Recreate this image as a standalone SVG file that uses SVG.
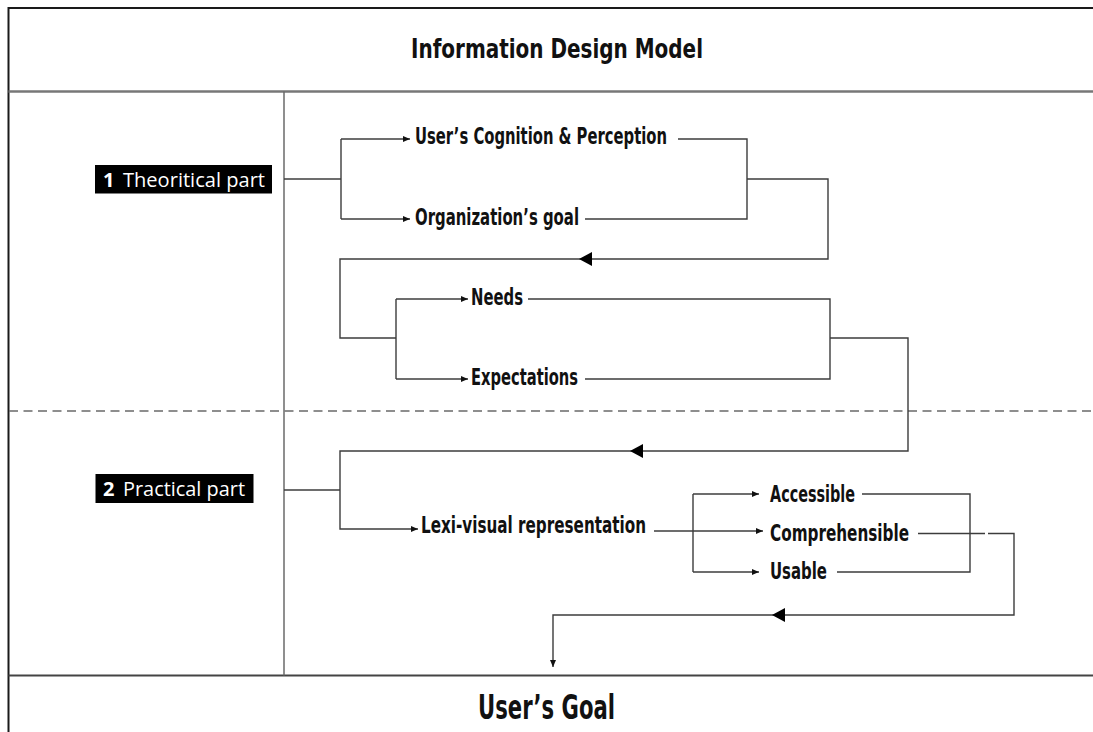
<svg xmlns="http://www.w3.org/2000/svg" width="1093" height="732" viewBox="0 0 1093 732">
  <style>
    .frame { fill: none; stroke: #3a3a3a; stroke-width: 2; }
    .divider { fill: none; stroke: #6a6a6a; stroke-width: 1.5; }
    .dash { fill: none; stroke: #6a6a6a; stroke-width: 1.5; stroke-dasharray: 9 5.5; }
    .wire { fill: none; stroke: #3c3c3c; stroke-width: 1.4; }
    .arr { marker-end: url(#tip); }
    .node { font-family: "Liberation Sans Narrow", "DejaVu Sans Condensed", "Liberation Sans", sans-serif; font-weight: bold; font-size: 23px; fill: #111; }
    .title { font-family: "Liberation Sans Narrow", "DejaVu Sans Condensed", "Liberation Sans", sans-serif; font-weight: bold; fill: #111; }
    .tag { fill: #000; }
    .tagtext { font-family: "Open Sans", "Noto Sans", "Liberation Sans", sans-serif; font-size: 20px; fill: #fff; }
    .big { fill: #000; }
  </style>
  <defs>
    <marker id="tip" markerUnits="userSpaceOnUse" markerWidth="8" markerHeight="6" refX="7" refY="3" orient="auto">
      <path d="M0,0 L7,3 L0,6 z" fill="#111"/>
    </marker>
    <path id="bigArrow" d="M0,0 L13,-7 L13,7 z"/>
  </defs>

  <rect width="1093" height="732" fill="#fff"/>

  <!-- page frame -->
  <g id="frame">
    <path class="frame" d="M8.5,732 V8 H1093" style="stroke:#1a1a1a"/>
    <path class="frame" d="M8.5,91.5 H1093" style="stroke:#777;stroke-width:2.5"/>
    <path class="frame" d="M8.5,675.5 H1093" style="stroke:#444"/>
    <path class="divider" d="M284,91.5 V675.5"/>
    <path class="dash" d="M9,411 H1093"/>
  </g>

  <!-- headings -->
  <g id="title">
    <text class="title" x="411" y="58" font-size="27" textLength="292" lengthAdjust="spacingAndGlyphs">Information Design Model</text>
  </g>
  <g id="users-goal">
    <text class="title" x="478" y="719" font-size="34" textLength="137" lengthAdjust="spacingAndGlyphs">User’s Goal</text>
  </g>

  <!-- section tags -->
  <g id="theoretical-part">
    <rect class="tag" x="95" y="165" width="177" height="28.5"/>
    <text class="tagtext" x="103" y="186.5" font-weight="bold">1</text>
    <text class="tagtext" x="123" y="186.5" textLength="142" lengthAdjust="spacingAndGlyphs">Theoritical part</text>
  </g>
  <g id="practical-part">
    <rect class="tag" x="95.5" y="474" width="158" height="29"/>
    <text class="tagtext" x="103" y="495.5" font-weight="bold">2</text>
    <text class="tagtext" x="123" y="495.5" textLength="122" lengthAdjust="spacingAndGlyphs">Practical part</text>
  </g>

  <!-- nodes -->
  <g id="cognition">
    <text class="node" x="415" y="144" textLength="252" lengthAdjust="spacingAndGlyphs">User’s Cognition &amp; Perception</text>
  </g>
  <g id="org-goal">
    <text class="node" x="415" y="225" textLength="164" lengthAdjust="spacingAndGlyphs">Organization’s goal</text>
  </g>
  <g id="needs">
    <text class="node" x="471" y="305" textLength="52" lengthAdjust="spacingAndGlyphs">Needs</text>
  </g>
  <g id="expectations">
    <text class="node" x="471" y="384.5" textLength="107" lengthAdjust="spacingAndGlyphs">Expectations</text>
  </g>
  <g id="lexi-visual">
    <text class="node" x="421" y="533" textLength="225" lengthAdjust="spacingAndGlyphs">Lexi-visual representation</text>
  </g>
  <g id="accessible">
    <text class="node" x="770" y="501.5" textLength="85" lengthAdjust="spacingAndGlyphs">Accessible</text>
  </g>
  <g id="comprehensible">
    <text class="node" x="770" y="540.5" textLength="139" lengthAdjust="spacingAndGlyphs">Comprehensible</text>
  </g>
  <g id="usable">
    <text class="node" x="770" y="578.5" textLength="57" lengthAdjust="spacingAndGlyphs">Usable</text>
  </g>

  <!-- connectors -->
  <g id="connectors">
    <!-- theoretical part: split into cognition / organization goal -->
    <path class="wire" d="M284,179 H341"/>
    <path class="wire" d="M341,139 V219"/>
    <path class="wire arr" d="M341,139 H410"/>
    <path class="wire arr" d="M341,219 H410"/>
    <!-- merge and return to needs / expectations -->
    <path class="wire" d="M678,139 H747 V219 H585"/>
    <path class="wire" d="M747,179 H828 V259 H340 V338 H396"/>
    <use href="#bigArrow" class="big" x="579" y="259"/>
    <path class="wire" d="M396,299 V379"/>
    <path class="wire arr" d="M396,299 H468"/>
    <path class="wire arr" d="M396,379 H468"/>
    <!-- merge and pass into the practical part -->
    <path class="wire" d="M528,299 H830 V379 H585"/>
    <path class="wire" d="M830,338 H908 V451 H340 V529 H418" style="marker-end:url(#tip)"/>
    <use href="#bigArrow" class="big" x="630" y="451"/>
    <path class="wire" d="M284,490 H340"/>
    <!-- representation qualities -->
    <path class="wire arr" d="M654,531 H763"/>
    <path class="wire" d="M693,494 V572"/>
    <path class="wire arr" d="M693,494 H759"/>
    <path class="wire arr" d="M693,572 H759"/>
    <path class="wire" d="M862,494 H970 V572 H837"/>
    <path class="wire" d="M918,533.5 H985"/>
    <path class="wire" d="M988,533.5 H1014 V615 H553 V667" style="marker-end:url(#tip)"/>
    <use href="#bigArrow" class="big" x="772" y="615"/>
  </g>
</svg>
